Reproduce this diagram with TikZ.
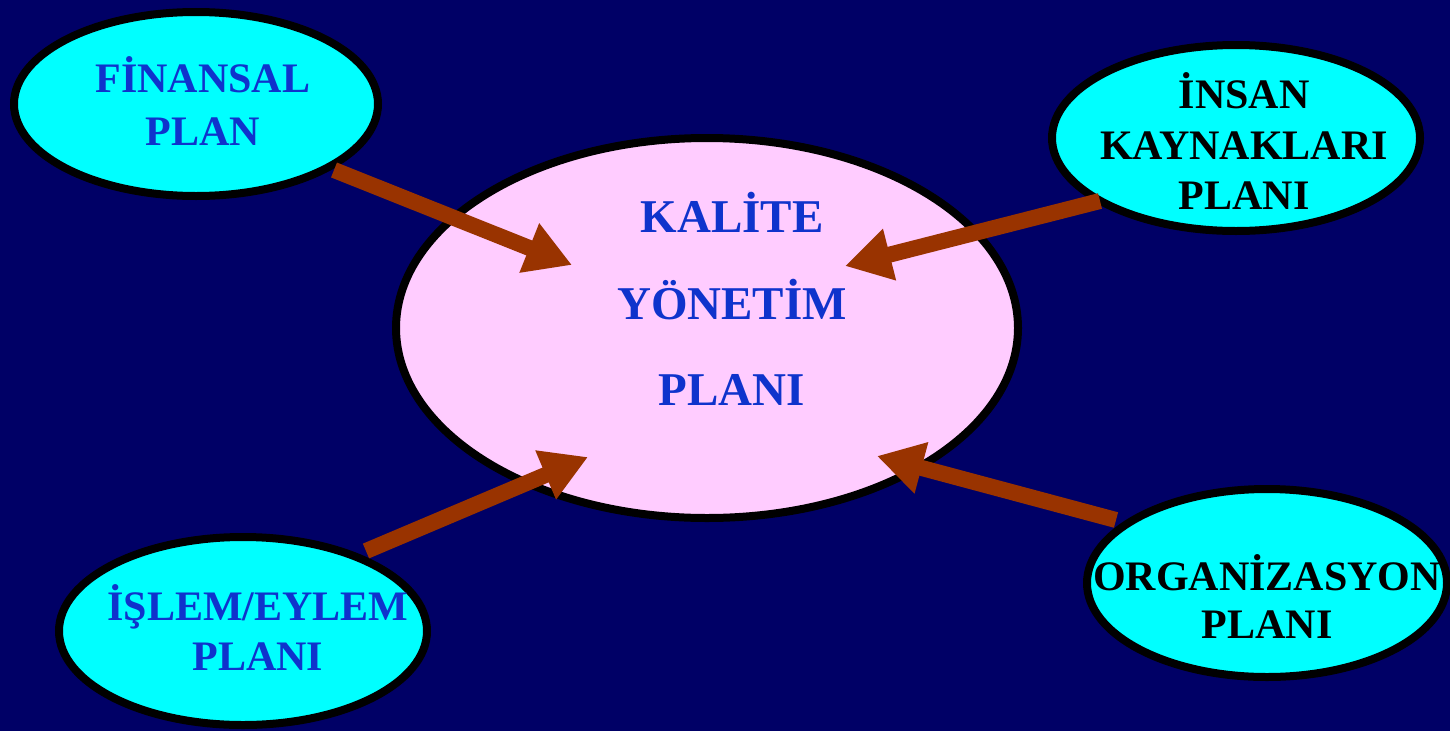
\documentclass[tikz,border=0pt]{standalone}
\usepackage{fontspec}
\setmainfont{Liberation Serif}
\usetikzlibrary{arrows.meta}
\definecolor{bgnavy}{HTML}{000066}
\definecolor{cyanfill}{HTML}{00FFFF}
\definecolor{pinkfill}{HTML}{FFCCFF}
\definecolor{txtblue}{HTML}{0F33CC}
\definecolor{arrbrown}{HTML}{993300}
\begin{document}
\begin{tikzpicture}[x=1pt,y=-1pt,
  oval/.style={draw=black,line width=8pt,fill=cyanfill},
  bigoval/.style={draw=black,line width=8pt,fill=pinkfill},
  lbl/.style={anchor=base,inner sep=0pt,font=\fontsize{42}{50}\selectfont\bfseries},
  biglbl/.style={anchor=base,inner sep=0pt,font=\fontsize{47}{56}\selectfont\bfseries,text=txtblue},
  flow/.style={draw=arrbrown,line width=16pt,-{Triangle[width=50pt,length=46pt]},arrbrown}
]
\fill[bgnavy] (0,0) rectangle (1450,731);
\useasboundingbox (0,0) rectangle (1450,731);

% ellipses
\draw[bigoval] (707,328) ellipse [x radius=311, y radius=190];
\draw[oval] (196,104) ellipse [x radius=182, y radius=92];
\draw[oval] (1236,138) ellipse [x radius=184, y radius=93];
\draw[oval] (1267,583) ellipse [x radius=180, y radius=94];
\draw[oval] (243,631) ellipse [x radius=184, y radius=94];

% texts
\node[lbl,text=txtblue] (f1) at (203,92) {FİNANSAL};
\node[lbl,text=txtblue] (f2) at (203,145) {PLAN};

\node[lbl,text=black] (i1) at (1244,108) {İNSAN};
\node[lbl,text=black] (i2) at (1244,159) {KAYNAKLARI};
\node[lbl,text=black] (i3) at (1244,209) {PLANI};

\node[biglbl] (k1) at (732,232) {KALİTE};
\node[biglbl] (k2) at (732,319) {YÖNETİM};
\node[biglbl] (k3) at (732,405) {PLANI};

\node[lbl,text=black] (o1) at (1267,590) {ORGANİZASYON};
\node[lbl,text=black] (o2) at (1267,638) {PLANI};

\node[lbl,text=txtblue] (e1) at (258,620) {İŞLEM/EYLEM};
\node[lbl,text=txtblue] (e2) at (258,670) {PLANI};

% arrow endpoints
\coordinate (fs) at (334,170);
\coordinate (ft) at (572,265);
\coordinate (is) at (1100,201);
\coordinate (it) at (845,266);
\coordinate (es) at (366,551);
\coordinate (et) at (588,457);
\coordinate (os) at (1116,520);
\coordinate (ot) at (877,456);

\draw[flow] (fs) -- (ft);
\draw[flow] (is) -- (it);
\draw[flow] (es) -- (et);
\draw[flow] (os) -- (ot);
\end{tikzpicture}
\end{document}
